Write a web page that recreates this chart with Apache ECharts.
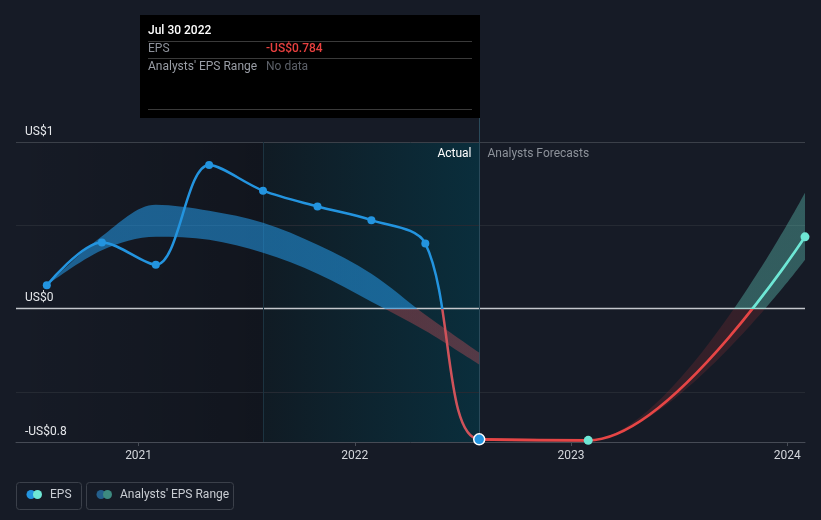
<!DOCTYPE html>
<html>
<head>
<meta charset="utf-8">
<script src="https://cdn.jsdelivr.net/npm/echarts@6/dist/echarts.min.js"></script>
<style>
html,body{margin:0;padding:0;background:#161b26;}
#c{width:821px;height:520px;}
</style>
</head>
<body>
<div id="c"></div>
<script>
// ---- data ----
const actualDates = ['2020-07-30','2020-10-31','2021-01-30','2021-04-30','2021-07-30','2021-10-30','2022-01-29','2022-04-30','2022-07-30'];
const actualEps   = [0.140, 0.397, 0.263, 0.862, 0.708, 0.613, 0.531, 0.391, -0.784];

const forecastDates = ['2022-07-30','2023-01-30','2024-01-31'];
const forecastEps   = [-0.784, -0.79, 0.431];

const rangeDates = ['2020-07-30','2020-10-31','2021-01-30','2021-04-30','2021-07-30','2021-10-30','2022-01-29','2022-04-30','2022-07-30'];
const rangeLow   = [0.140, 0.350, 0.431, 0.413, 0.335, 0.210, 0.042, -0.132, -0.335];
const rangeHigh  = [0.140, 0.434, 0.623, 0.587, 0.515, 0.383, 0.210, -0.036, -0.263];

const forecastRangeDates = ['2022-07-30','2023-01-30','2024-01-31'];
const forecastRangeLow   = [-0.784, -0.79, 0.293];
const forecastRangeHigh  = [-0.784, -0.79, 0.695];

const yTickValues = [-0.8, 0, 1];
const yTickLabels = ['-US$0.8', 'US$0', 'US$1'];
const gridValues  = [1, 0.5, 0, -0.5];

const xMin = '2020-06-08';
const xMax = '2024-01-31';
const actualPeriodStart = '2021-07-30';
const lastActualDate = actualDates[actualDates.length - 1];
const lastActualEps = actualEps[actualEps.length - 1];

// ---- build ----
const FONT = 'Roboto, "Noto Sans", sans-serif';
const SMOOTH = 0.33;
const pair = (d, v) => d.map((x, i) => [x, v[i]]);
const diff = (hi, lo) => hi.map((h, i) => +(h - lo[i]).toFixed(4));
const split = (neg, pos) => [{gte: -10, lt: 0, color: neg}, {gte: 0, lte: 10, color: pos}];

// actual line continues (hidden, under the forecast line) to the next forecast point so the curve eases in
const actualLineData = pair(actualDates, actualEps).concat([
  {value: [forecastDates[1], forecastEps[1]], symbol: 'none'}
]);

const chart = echarts.init(document.getElementById('c'));

const gridLineStyles = {
  '1':   {color: '#3b4049', width: 1},
  '0.5': {color: '#252a33', width: 1},
  '0':   {color: '#c4c7cc', width: 1.3},
  '-0.5':{color: '#252a33', width: 1}
};

const option = {
  backgroundColor: '#161b26',
  animation: false,
  grid: {left: 16, right: 16, top: 142, bottom: 78},
  xAxis: {
    type: 'time', min: xMin, max: xMax, splitNumber: 3,
    axisLine: {onZero: false, lineStyle: {color: '#464b55'}},
    axisTick: {show: true, length: 4, lineStyle: {color: '#464b55'}},
    axisLabel: {color: '#d3d6db', fontSize: 12, fontFamily: FONT, margin: 8,
      formatter: v => String(new Date(v).getFullYear())},
    splitLine: {show: false}
  },
  yAxis: {
    type: 'value', min: -0.8, max: 1, interval: 0.2,
    axisLine: {show: false}, axisTick: {show: false}, splitLine: {show: false},
    axisLabel: {inside: true, margin: 9, verticalAlign: 'bottom', lineHeight: 21,
      color: '#e6e8eb', fontSize: 12, fontFamily: FONT,
      formatter: v => { const i = yTickValues.findIndex(t => Math.abs(t - v) < 1e-6); return i >= 0 ? yTickLabels[i] : ''; }}
  },
  visualMap: [
    {type: 'piecewise', show: false, seriesIndex: 5, dimension: 1, pieces: split('#cf525a', '#2394df')},
    {type: 'piecewise', show: false, seriesIndex: 6, dimension: 1, pieces: split('#e64545', '#6ee7d5')},
    {type: 'piecewise', show: false, seriesIndex: 2, dimension: 1, pieces: split('rgba(215,80,90,0.36)', 'rgba(35,148,223,0.58)')},
    {type: 'piecewise', show: false, seriesIndex: 4, dimension: 1, pieces: split('rgba(230,60,60,0.15)', 'rgba(110,231,213,0.32)')}
  ],
  series: [
    { // 0: background shading and grid lines
      type: 'line', data: [], z: 0, silent: true,
      markArea: {silent: true, z: 0, data: [
        [{xAxis: xMin, itemStyle: {color: new echarts.graphic.LinearGradient(0, 0, 1, 0, [
          {offset: 0, color: 'rgba(0,0,0,0)'}, {offset: 1, color: 'rgba(0,0,0,0.22)'}])}}, {xAxis: actualPeriodStart}],
        [{xAxis: actualPeriodStart, itemStyle: {color: new echarts.graphic.LinearGradient(0, 0, 1, 0, [
          {offset: 0, color: '#101b24'}, {offset: 1, color: '#0a2e3c'}])}}, {xAxis: lastActualDate}]
      ]},
      markLine: {silent: true, z: 1, symbol: ['none', 'none'], label: {show: false},
        data: gridValues.map(v => ({yAxis: v, lineStyle: Object.assign({type: 'solid'}, gridLineStyles[String(v)])}))
          .concat([
            {xAxis: actualPeriodStart, lineStyle: {type: 'solid', color: '#1c3340', width: 1}},
            {xAxis: lastActualDate, lineStyle: {type: 'solid', color: '#2a4a5a', width: 1}}
          ])}
    },
    { // 1: hist range low
      type: 'line', stack: 'hist', stackStrategy: 'all', data: pair(rangeDates, rangeLow), smooth: SMOOTH,
      showSymbol: false, lineStyle: {opacity: 0}, z: 2, silent: true
    },
    { // 2: hist range diff
      type: 'line', stack: 'hist', stackStrategy: 'all', data: pair(rangeDates, diff(rangeHigh, rangeLow)), smooth: SMOOTH,
      showSymbol: false, lineStyle: {opacity: 0}, areaStyle: {opacity: 1}, z: 2, silent: true
    },
    { // 3: forecast range low
      type: 'line', stack: 'fc', stackStrategy: 'all', data: pair(forecastRangeDates, forecastRangeLow), smooth: 0.35,
      showSymbol: false, lineStyle: {opacity: 0}, z: 2, silent: true
    },
    { // 4: forecast range diff
      type: 'line', stack: 'fc', stackStrategy: 'all', data: pair(forecastRangeDates, diff(forecastRangeHigh, forecastRangeLow)), smooth: 0.35,
      showSymbol: false, lineStyle: {opacity: 0}, areaStyle: {opacity: 1}, z: 2, silent: true
    },
    { // 5: actual EPS
      type: 'line', data: actualLineData, smooth: SMOOTH,
      symbol: 'circle', symbolSize: 8, showSymbol: true, lineStyle: {width: 2.5}, z: 3
    },
    { // 6: forecast EPS
      type: 'line', data: pair(forecastDates, forecastEps), smooth: 0.35,
      showSymbol: false, lineStyle: {width: 2.6}, z: 4
    },
    { // 7: forecast markers
      type: 'scatter', data: pair(forecastDates.slice(1), forecastEps.slice(1)),
      symbol: 'circle', symbolSize: 9, itemStyle: {color: '#6ee7d5', opacity: 1}, z: 5
    },
    { // 8: highlighted point
      type: 'scatter', data: [[lastActualDate, lastActualEps]],
      symbol: 'circle', symbolSize: 11, itemStyle: {color: '#2394df', borderColor: '#ffffff', borderWidth: 1.5, opacity: 1}, z: 6
    }
  ]
};
chart.setOption(option);

// ---- overlays (tooltip box, labels, legend) ----
const px = chart.convertToPixel({gridIndex: 0}, [lastActualDate, 1]);
const X = Math.round(px[0]) + 0.5;
const months = ['Jan','Feb','Mar','Apr','May','Jun','Jul','Aug','Sep','Oct','Nov','Dec'];
const dp = lastActualDate.split('-');
const dateText = months[+dp[1] - 1] + ' ' + (+dp[2]) + ' ' + dp[0];
const valText = (lastActualEps < 0 ? '-' : '') + 'US$' + Math.abs(lastActualEps).toFixed(3);
const T = (x, y, text, fill, extra) => Object.assign({type: 'text', x: x, y: y, z: 100,
  style: Object.assign({text: text, fill: fill, font: '12px ' + FONT, verticalAlign: 'middle', align: 'left'}, extra || {})});
const L = (x1, y1, x2, y2, c) => ({type: 'line', z: 100, shape: {x1: x1, y1: y1, x2: x2, y2: y2}, style: {stroke: c, lineWidth: 1}});

chart.setOption({graphic: [
  L(X, 118, X, 142, '#2a4a5a'),
  {type: 'rect', z: 99, shape: {x: 140, y: 15, width: 340, height: 103}, style: {fill: '#000000'}},
  T(148, 30.5, dateText, '#ffffff', {font: '500 12px ' + FONT}),
  L(148, 41.5, 472, 41.5, '#3a3a3a'),
  T(148, 48.5, 'EPS', '#8c9099'),
  T(266, 48.5, valText, '#e8403f', {font: '500 12px ' + FONT}),
  L(148, 58.5, 472, 58.5, '#3a3a3a'),
  T(148, 66.5, "Analysts' EPS Range", '#9a9ea6'),
  T(266, 66.5, 'No data', '#5c6068'),
  L(148, 109.5, 472, 109.5, '#3a3a3a'),
  T(X - 8, 154, 'Actual', '#ffffff', {align: 'right'}),
  T(X + 8, 154, 'Analysts Forecasts', '#8d929a'),
  {type: 'rect', z: 100, shape: {x: 16.5, y: 482.5, width: 65, height: 27, r: 3}, style: {fill: 'none', stroke: '#3b404a', lineWidth: 1}},
  {type: 'circle', z: 100, shape: {cx: 31, cy: 494.5, r: 4.5}, style: {fill: '#2394df'}},
  {type: 'circle', z: 101, shape: {cx: 37.5, cy: 494.5, r: 4.5}, style: {fill: '#6ee7d5'}},
  T(50, 495, 'EPS', '#c9cdd3'),
  {type: 'rect', z: 100, shape: {x: 86.5, y: 482.5, width: 147, height: 27, r: 3}, style: {fill: 'none', stroke: '#3b404a', lineWidth: 1}},
  {type: 'circle', z: 100, shape: {cx: 101, cy: 494.5, r: 4.5}, style: {fill: '#245f8c'}},
  {type: 'circle', z: 101, shape: {cx: 107.5, cy: 494.5, r: 4.5}, style: {fill: '#3d8a80'}},
  T(120, 495, "Analysts' EPS Range", '#c9cdd3')
]});
</script>
</body>
</html>
